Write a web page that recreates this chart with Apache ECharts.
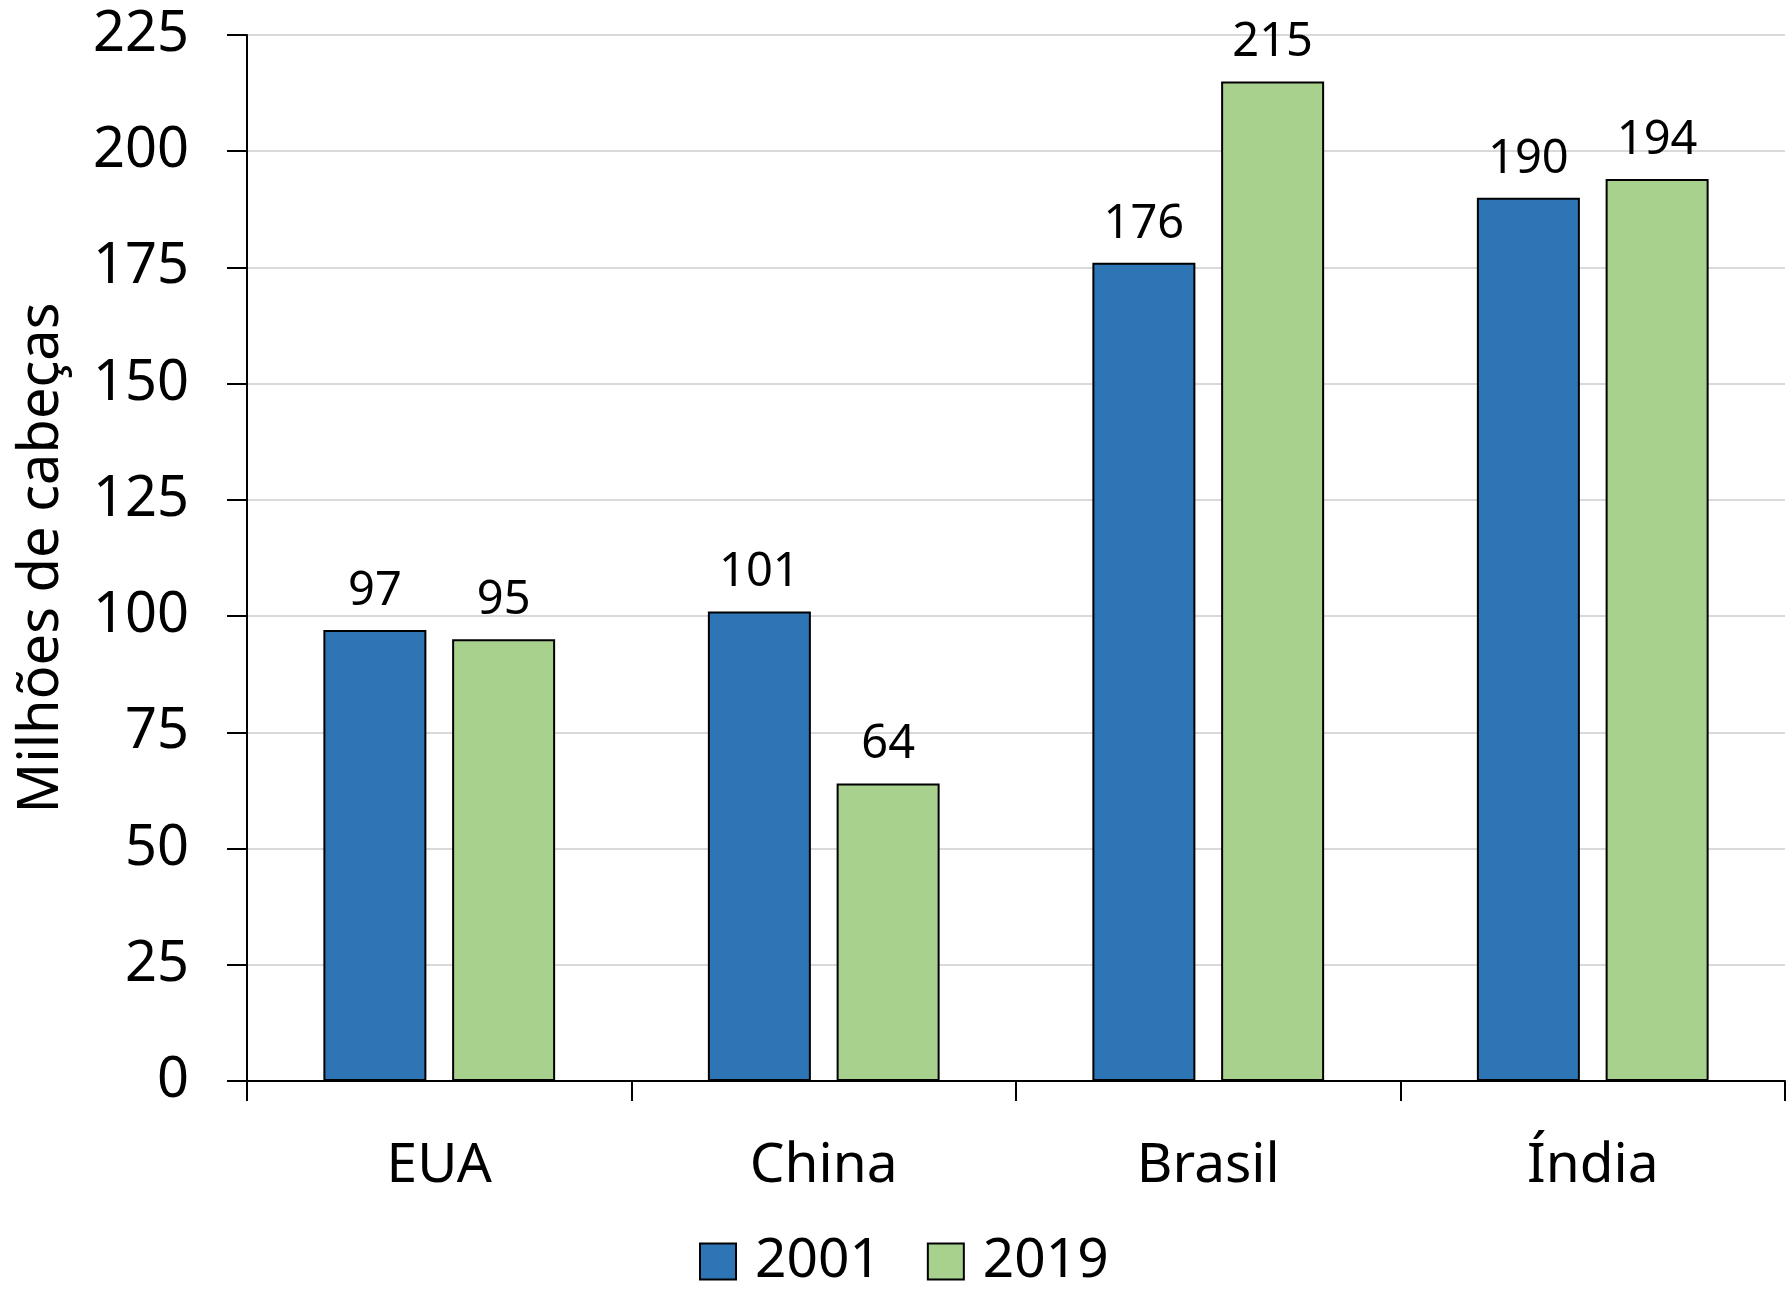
<!DOCTYPE html>
<html>
<head>
<meta charset="utf-8">
<script src="https://cdn.jsdelivr.net/npm/echarts@6/dist/echarts.min.js"></script>
<style>
html,body{margin:0;padding:0;background:#fff;}
#chart{width:1787px;height:1291px;}
</style>
</head>
<body>
<div id="chart"></div>
<script>
const categories = ['EUA', 'China', 'Brasil', 'Índia'];
const series2001 = [97, 101, 176, 190];
const series2019 = [95, 64, 215, 194];
const seriesNames = ['2001', '2019'];
const yTitle = 'Milhões de cabeças';

const FONT = 'Noto Sans';
const chart = echarts.init(document.getElementById('chart'), null, {renderer: 'canvas'});

const labelCfg = {
  show: true,
  position: 'top',
  distance: 15,
  color: '#000',
  fontFamily: FONT,
  fontSize: 47
};

chart.setOption({
  backgroundColor: '#fff',
  animation: false,
  grid: {left: 247, right: 2, top: 35, bottom: 210, containLabel: false},
  legend: {
    data: seriesNames,
    left: 694,
    top: 1229,
    itemWidth: 36,
    itemHeight: 36,
    itemGap: 46,
    icon: 'rect',
    textStyle: {fontFamily: FONT, fontSize: 55, color: '#000', padding: [0, 0, 0, 14]}
  },
  xAxis: {
    type: 'category',
    data: categories,
    axisLine: {lineStyle: {color: '#000', width: 2}},
    axisTick: {show: true, length: 20, lineStyle: {color: '#000', width: 2}},
    axisLabel: {fontFamily: FONT, fontSize: 55, color: '#000', margin: 58}
  },
  yAxis: {
    type: 'value',
    min: 0,
    max: 225,
    interval: 25,
    name: yTitle,
    nameLocation: 'middle',
    nameGap: 177,
    nameRotate: 90,
    nameTextStyle: {fontFamily: FONT, fontSize: 56, color: '#000'},
    axisLine: {show: true, lineStyle: {color: '#000', width: 2}},
    axisTick: {show: true, length: 20, lineStyle: {color: '#000', width: 2}},
    axisLabel: {fontFamily: FONT, fontSize: 56, color: '#000', margin: 58},
    splitLine: {show: true, lineStyle: {color: '#d9d9d9', width: 2}}
  },
  series: [
    {
      name: seriesNames[0],
      type: 'bar',
      data: series2001,
      barWidth: 103,
      barGap: '25%',
      itemStyle: {color: '#2E75B6', borderColor: '#000', borderWidth: 2},
      label: labelCfg
    },
    {
      name: seriesNames[1],
      type: 'bar',
      data: series2019,
      barWidth: 103,
      barGap: '25%',
      itemStyle: {color: '#A9D18E', borderColor: '#000', borderWidth: 2},
      label: labelCfg
    }
  ]
});
</script>
</body>
</html>
